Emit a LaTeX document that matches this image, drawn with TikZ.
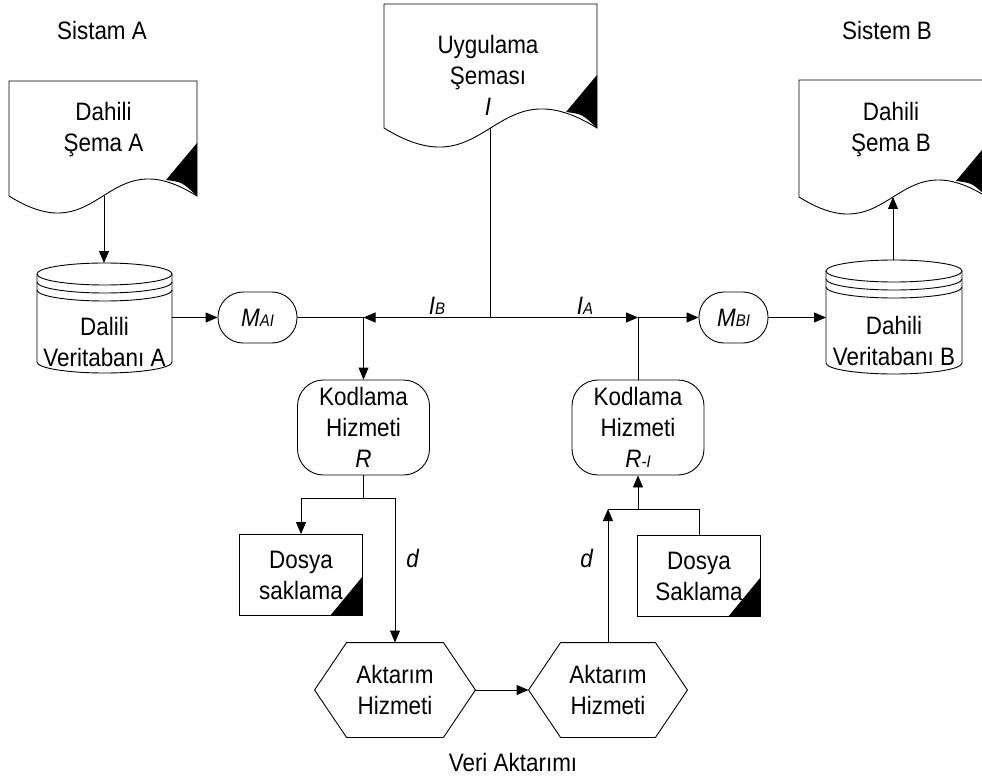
\documentclass[tikz,border=0pt]{standalone}
\usepackage{fontspec}
% the labels are set slightly tall and narrow
\setmainfont{Liberation Sans}[FakeStretch=0.89]
\usetikzlibrary{arrows.meta,calc}

% small letters used for the index parts of the labels
\newcommand\smallidx[1]{{\fontsize{16.8pt}{16.8pt}\selectfont #1}}

% document shape: left x, right x, top y, y where the wavy edge meets the sides, wave amplitude
\newcommand\docshape[5]{%
  \draw (#1,#4) -- (#1,#3) -- (#2,#3) -- (#2,#4)
    .. controls ({(#1+#2)/2},{#4-#5}) and ({(#1+#2)/2},{#4+#5}) .. (#1,#4) -- cycle;
  \fill (#2,{#4-53}) -- ({#2-31},{#4-16})
    .. controls ({#2-15},{#4-14}) .. (#2,#4) -- cycle;}

% database cylinder: centre x, top y, x radius, y radius, y where the sides end
\newcommand\dbshape[5]{%
  \draw (#1,{#2+#4}) ellipse [x radius=#3, y radius=#4];
  \draw ({#1-#3},{#2+#4+8}) arc [start angle=180, end angle=0, x radius=#3, y radius=#4];
  \draw ({#1-#3},{#2+#4+16}) arc [start angle=180, end angle=0, x radius=#3, y radius=#4];
  \draw ({#1-#3},{#2+#4}) -- ({#1-#3},#5)
    arc [start angle=180, end angle=0, x radius=#3, y radius=#4] -- ({#1+#3},{#2+#4});}

\begin{document}
\begin{tikzpicture}[x=1pt,y=-1pt,line width=0.9pt,
  txt/.style={align=center,inner sep=0pt,font=\fontsize{25.2pt}{31pt}\selectfont},
  conn/.style={-{Triangle[length=12pt,width=10pt]}},
  pill/.style={txt,draw,rounded corners=25pt,minimum height=51pt},
  kbox/.style={txt,draw,rounded corners=26pt,minimum width=132pt,minimum height=95pt},
  store/.style={txt,draw,minimum width=123pt,minimum height=81pt},
  hexnode/.style={txt,minimum height=94pt}]
\useasboundingbox (0,0) rectangle (982,778);
\clip (0,0) rectangle (982,778);

% ---- titles ----
\node[txt] (tA) at (102,30) {Sistam A};
\node[txt] (tB) at (887,30) {Sistem B};
\node[txt] (tV) at (513,762) {Veri Aktarımı};

% ---- schema documents ----
\docshape{9}{197}{81}{196}{59}
\node[txt] (docA) at (103.5,130) {Dahili\\Şema A};
\coordinate (docA-b) at (104,196);

\docshape{384}{597}{4}{128}{66}
\node[txt] (docU) at (488,75) {Uygulama\\Şeması\\\textit{I}};
\coordinate (docU-b) at (490.5,128);

\docshape{799}{987}{80}{197}{59}
\node[txt] (docB) at (891,130) {Dahili\\Şema B};
\coordinate (docB-b) at (893,197);

% ---- databases ----
\dbshape{104.5}{263}{67.5}{11}{362}
\node[txt] (dbA) at (104.5,342) {Dalili\\Veritabanı A};
\coordinate (dbA-t) at (104,263);
\coordinate (dbA-e) at (172,317.5);

\dbshape{894}{260}{68}{11}{363}
\node[txt] (dbB) at (894,341) {Dahili\\Veritabanı B};
\coordinate (dbB-t) at (893,260);
\coordinate (dbB-w) at (826,317.5);

% ---- mapping nodes ----
\node[pill,minimum width=79pt] (mai) at (257.5,317.5) {\textit{M\smallidx{AI}}};
\node[pill,minimum width=69pt] (mbi) at (733.5,317.5) {\textit{M\smallidx{BI}}};

% ---- coding services ----
\node[kbox] (kR) at (363.5,427.5) {Kodlama\\Hizmeti\\\textit{R}};
\node[kbox] (kRI) at (638,427.5) {Kodlama\\Hizmeti\\\textit{R\smallidx{-I}}};

% ---- file stores ----
\node[store] (ds1) at (301,575) {Dosya\\saklama};
\fill (ds1.south east) -- ++(0,-40) -- ++(-33,40) -- cycle;
\node[store] (ds2) at (699,576) {Dosya\\Saklama};
\fill (ds2.south east) -- ++(0,-40) -- ++(-33,40) -- cycle;

% ---- transfer services (hexagons) ----
\node[hexnode,minimum width=160pt] (hx1) at (395,690) {Aktarım\\Hizmeti};
\node[hexnode,minimum width=158pt] (hx2) at (608,690) {Aktarım\\Hizmeti};
\foreach \h in {hx1,hx2}{
  \draw (\h.west) -- ($(\h.north west)+(32,0)$) -- ($(\h.north east)+(-32,0)$)
    -- (\h.east) -- ($(\h.south east)+(-32,0)$) -- ($(\h.south west)+(32,0)$) -- cycle;}

% ---- junctions ----
\coordinate (jL) at (363.5,317.5);
\coordinate (jC) at (490.5,317.5);
\coordinate (jR) at (638,317.5);
\coordinate (splitL) at (363.5,498);
\coordinate (joinR) at (638,509);

% ---- connectors ----
\draw[conn] (docA-b) -- (dbA-t);
\draw[conn] (dbA-e) -- (mai.west);
\draw (mai.east) -- (jL);
\draw (docU-b) -- (jC);
\draw[conn] (jC) -- (jL);
\draw[conn] (jC) -- (jR);
\draw[conn] (jL) -- (kR.north);
\draw (kRI.north) -- (jR);
\draw[conn] (jR) -- (mbi.west);
\draw[conn] (mbi.east) -- (dbB-w);
\draw[conn] (dbB-t) -- (docB-b);

\draw (kR.south) -- (splitL);
\draw[conn] (splitL) -| (ds1.north);
\draw[conn] (splitL) -| (hx1.north);
\draw[conn] (hx1.east) -- (hx2.west);
\draw[conn] (hx2.north) -- (hx2.north |- joinR);
\draw (ds2.north) |- (hx2.north |- joinR);
\draw[conn] (joinR) -- (kRI.south);

% ---- connector labels ----
\node[txt] (lIB) at (437,306) {\textit{I\smallidx{B}}};
\node[txt] (lIA) at (585,306) {\textit{I\smallidx{A}}};
\node[txt] (ld1) at (413,558) {\textit{d}};
\node[txt] (ld2) at (587,558) {\textit{d}};
\end{tikzpicture}
\end{document}
